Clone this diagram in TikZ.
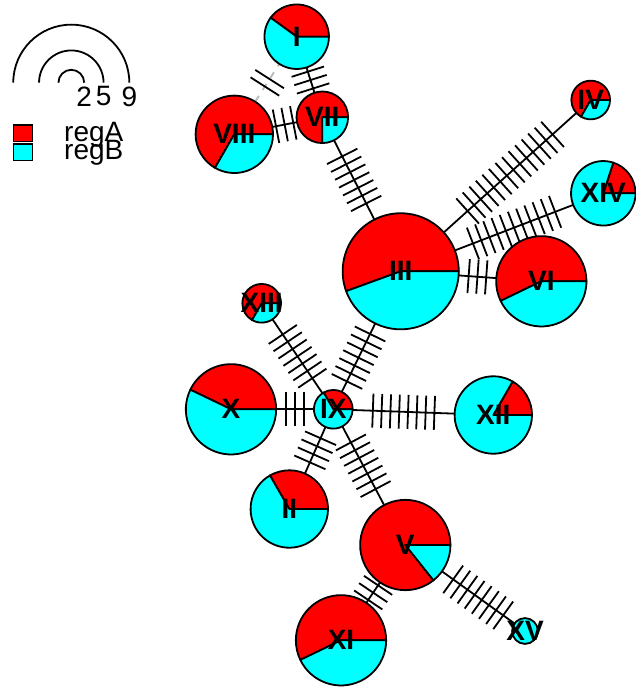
\documentclass[tikz,border=0pt]{standalone}
\usepackage{fontspec}
\setmainfont{Liberation Sans}
\usetikzlibrary{decorations.markings}
\definecolor{regAcol}{RGB}{255,0,0}
\definecolor{regBcol}{RGB}{0,255,255}
\pgfdeclarelayer{links}
\pgfsetlayers{links,main}
\tikzset{
  hap/.style={circle, inner sep=0pt, outer sep=0pt, label={[font=\fontsize{28}{30}\selectfont\bfseries, inner sep=0pt]center:#1}},
  pie/.style={line width=1.8pt, line join=round},
  link/.style={line width=1.8pt, postaction={decorate, decoration={markings,
      mark=at position 0.5 with {\foreach \k in {1,...,#1}
        \draw[solid, black, line width=1.8pt] ({(\k-(#1+1)/2)*8.8pt},-17pt) -- ({(\k-(#1+1)/2)*8.8pt},17pt);}}}},
  altlink/.style={link=#1, gray!55, dash pattern=on 7pt off 7pt},
}
\begin{document}
\begin{tikzpicture}[x=1pt, y=1pt, yscale=-1]
        \useasboundingbox (0,0) rectangle (635,687);
        % pies: name/x/y/size/regA
        \foreach \nm/\x/\y/\n/\a in {I/296.7/36.7/5/2, II/289.3/509/6/2, III/400.7/271.3/9/5, IV/590.7/100/3/2, V/405.3/545/7/6, VI/541.3/281.3/7/4, VII/322.3/117.3/4/3, VIII/234.3/134.3/6/4, IX/333.3/409.3/3/1, X/231/409.3/7/3, XI/341/640.3/7/4, XII/493.3/415/6/1, XIII/261.7/303.3/3/2, XIV/603.3/193.3/5/1, XV/525/631/2/0}{
            \pgfmathsetmacro\r{6.45*\n}
            \pgfmathsetmacro\t{360*\a/\n}
            \ifnum\a>0
              \filldraw[pie, fill=regAcol] (\x,\y) -- ++(0:\r) arc[start angle=0, end angle=-\t, radius=\r] -- cycle;
              \filldraw[pie, fill=regBcol] (\x,\y) -- ++(-\t:\r) arc[start angle=-\t, end angle=-360, radius=\r] -- cycle;
            \else
              \filldraw[pie, fill=regBcol] (\x,\y) circle[radius=\r];
            \fi
            \node[hap=\nm, minimum size=12.9*\n] (\nm) at (\x,\y) {};
        }
        \begin{pgfonlayer}{links}
        \draw[link=3] (I) -- (VII);
        \draw[link=3] (VIII) -- (VII);
        \draw[altlink=2] (VIII) -- (I);
        \draw[link=7] (VII) -- (III);
        \draw[link=14] (III) -- (IV);
        \draw[link=11] (III) -- (XIV);
        \draw[link=3] (III) -- (VI);
        \draw[link=7] (IX) -- (III);
        \draw[link=7] (IX) -- (XIII);
        \draw[link=3] (IX) -- (X);
        \draw[link=8] (IX) -- (XII);
        \draw[link=4] (IX) -- (II);
        \draw[link=7] (IX) -- (V);
        \draw[link=3] (V) -- (XI);
        \draw[link=8] (V) -- (XV);
        \end{pgfonlayer}
        % legend
        \foreach \n in {2,5,9}{
            \draw[line width=1.8pt] ({71.3-6.45*\n},82.7) arc[start angle=180, end angle=360, radius={6.45*\n}]
              node[anchor=north, inner sep=3pt, font=\fontsize{28}{30}\selectfont] (size\n) {\n};
        }
        \draw[line width=1.2pt, fill=regAcol] (13.3,125) rectangle (32.3,141.7);
        \draw[line width=1.2pt, fill=regBcol] (13.3,144) rectangle (32.3,160.7);
        \node[anchor=base west, inner sep=0pt, font=\fontsize{28}{30}\selectfont] (regA) at (64,141.7) {regA};
        \node[anchor=base west, inner sep=0pt, font=\fontsize{28}{30}\selectfont] (regB) at (64,159.3) {regB};
\end{tikzpicture}
\end{document}
